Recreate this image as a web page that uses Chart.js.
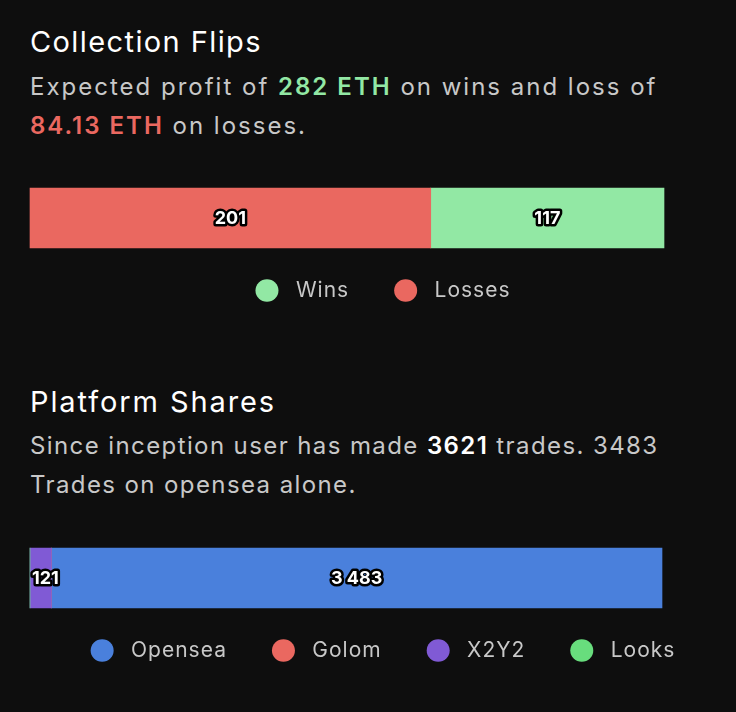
<!DOCTYPE html>
<html>
<head>
<meta charset="utf-8">
<script src="https://cdn.jsdelivr.net/npm/chart.js@4.4.0/dist/chart.umd.min.js"></script>
<style>
  html, body { margin: 0; padding: 0; background: #0e0e0e; }
  body { width: 736px; height: 712px; position: relative; overflow: hidden; font-family: Inter, sans-serif; }
  .title { position: absolute; left: 30px; color: #ffffff; font-size: 29px; line-height: 1; white-space: nowrap; letter-spacing: 1.4px; }
  .text { position: absolute; left: 30px; color: #c8c8c8; font-size: 24px; line-height: 39px; white-space: nowrap; letter-spacing: 2px; }
  .text b { font-weight: 600; }
  .g { color: #92e8a4; }
  .r { color: #ea6860; }
  .w { color: #ffffff; }
  canvas { position: absolute; left: 0; }
</style>
</head>
<body>
<div class="title" style="top:27px">Collection Flips</div>
<div class="text" style="top:67px">Expected profit of <b class="g">282 ETH</b> on wins and loss of<br><b class="r">84.13 ETH</b> on losses.</div>
<canvas id="flips" width="736" height="150" style="top:171px"></canvas>

<div class="title" style="top:387px; letter-spacing:1.9px">Platform Shares</div>
<div class="text" style="top:426px; letter-spacing:1.4px">Since inception user has made <b class="w">3621</b> trades. 3483<br>Trades on opensea alone.</div>
<canvas id="platforms" width="736" height="150" style="top:531px"></canvas>

<script>
// collection flips (Losses is stacked first, legend is reversed)
const flipRow = [''];
const flipNames = ['Losses', 'Wins'];
const flipCounts = [201, 117];
const flipColors = ['#ea6860', '#92e8a4'];

// platform shares
const platformRow = [''];
const platformNames = ['Looks', 'X2Y2', 'Golom', 'Opensea'];
const platformCounts = [0, 121, 0, 3483];
const platformColors = ['#68dd7d', '#805ad5', '#ea6860', '#4a80dc'];

const fmt = (v) => String(v).replace(/\B(?=(\d{3})+(?!\d))/g, ' ');

// wider text in the legend
const spacing = {
    id: 'spacing',
    beforeLayout(chart) { chart.ctx.letterSpacing = '1px'; },
    beforeDraw(chart) { chart.ctx.letterSpacing = '1px'; }
};

const barLabels = {
    id: 'barLabels',
    afterDatasetsDraw(chart) {
        const ctx = chart.ctx;
        const area = chart.chartArea;
        ctx.save();
        ctx.letterSpacing = '0px';
        ctx.font = 'bold 18px Inter, sans-serif';
        ctx.textAlign = 'center';
        ctx.textBaseline = 'middle';
        ctx.lineJoin = 'round';
        chart.data.datasets.forEach((ds, i) => {
            const meta = chart.getDatasetMeta(i);
            meta.data.forEach((bar, j) => {
                const v = ds.data[j];
                if (!v) return;
                const txt = fmt(v);
                const w = ctx.measureText(txt).width;
                let x = (bar.x + bar.base) / 2;
                x = Math.max(x, area.left + w / 2 + 2);
                x = Math.min(x, area.right - w / 2 - 2);
                ctx.lineWidth = 5;
                ctx.strokeStyle = '#000';
                ctx.strokeText(txt, x, bar.y + 1);
                ctx.fillStyle = '#fff';
                ctx.fillText(txt, x, bar.y + 1);
            });
        });
        ctx.restore();
    }
};

function makeChart(id, rows, names, counts, colors, rightGap) {
    const ctx = document.getElementById(id).getContext('2d');
    return new Chart(ctx, {
        type: 'bar',
        data: {
            labels: rows,
            datasets: names.map((n, i) => ({
                label: n,
                data: [counts[i]],
                backgroundColor: colors[i],
                borderWidth: 0,
                barThickness: 60,
                clip: false
            }))
        },
        options: {
            indexAxis: 'y',
            responsive: false,
            animation: false,
            layout: { padding: { left: 30, right: 0, top: 30, bottom: 10 } },
            scales: {
                x: { stacked: true, display: false, min: 0, bounds: 'data' },
                y: {
                    stacked: true,
                    position: 'right',
                    ticks: { display: false },
                    grid: { display: false },
                    border: { display: false },
                    afterFit: (s) => { s.width = rightGap; }
                }
            },
            plugins: {
                tooltip: { enabled: false },
                legend: {
                    position: 'bottom',
                    reverse: true,
                    maxHeight: 100,
                    labels: {
                        usePointStyle: true,
                        pointStyle: 'circle',
                        boxHeight: 16,
                        pointStyleWidth: 23,
                        padding: 45,
                        color: '#c8c8c8',
                        font: { family: 'Inter, sans-serif', size: 21 },
                        generateLabels: (chart) => Chart.defaults.plugins.legend.labels.generateLabels(chart)
                            .map((it) => Object.assign(it, { text: ' ' + it.text }))
                    }
                }
            }
        },
        plugins: [spacing, barLabels]
    });
}

makeChart('flips', flipRow, flipNames, flipCounts, flipColors, 72);
makeChart('platforms', platformRow, platformNames, platformCounts, platformColors, 74);
</script>
</body>
</html>
